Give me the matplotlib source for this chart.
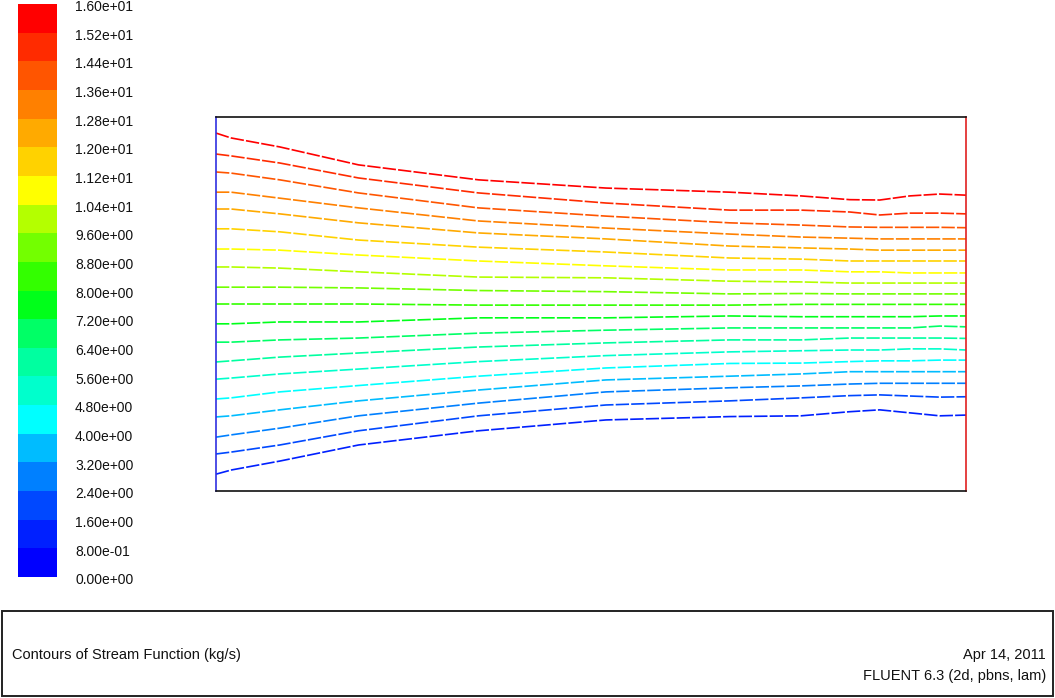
import matplotlib
matplotlib.use("Agg")
import matplotlib.pyplot as plt
import numpy as np
from matplotlib.colors import ListedColormap, BoundaryNorm
from matplotlib.cm import ScalarMappable
from matplotlib.patches import Rectangle
from matplotlib.transforms import ScaledTranslation

# ---------------- data ----------------
# colour-bar levels (stream function, kg/s)
levels = [round(0.8 * i, 1) for i in range(21)]          # 0.0 ... 16.0
band_colors = ["#0000ff", "#0020ff", "#0048ff", "#0080ff", "#00bcff",
               "#00ffff", "#00ffcc", "#00ffa0", "#00ff66", "#00ff1a",
               "#33ff00", "#73ff00", "#b4ff00", "#ffff00", "#ffd200",
               "#ffaa00", "#ff8000", "#ff5500", "#ff2b00", "#ff0000"]

# streamline positions in the channel (x: 0..2 along, y: 0..1 across)
x_pos = [0.0, 0.04, 0.17, 0.38, 0.70, 1.04, 1.37, 1.56, 1.69, 1.77, 1.85, 1.93, 2.0]
contour_levels = [0.8, 1.6, 2.4, 3.2, 4.0, 4.8, 5.6, 6.4, 7.2, 8.0,
                  8.8, 9.6, 10.4, 11.2, 12.0, 12.8, 13.6, 14.4, 15.2]
psi_0_8  = [0.045, 0.056, 0.080, 0.123, 0.161, 0.190, 0.199, 0.201, 0.212, 0.217, 0.209, 0.201, 0.203]
psi_1_6  = [0.099, 0.104, 0.123, 0.161, 0.201, 0.230, 0.241, 0.249, 0.255, 0.257, 0.254, 0.251, 0.252]
psi_2_4  = [0.144, 0.150, 0.168, 0.201, 0.235, 0.265, 0.276, 0.281, 0.286, 0.288, 0.288, 0.288, 0.288]
psi_3_2  = [0.198, 0.201, 0.217, 0.241, 0.270, 0.297, 0.307, 0.313, 0.319, 0.319, 0.319, 0.319, 0.319]
psi_4_0  = [0.246, 0.249, 0.265, 0.282, 0.307, 0.329, 0.341, 0.342, 0.346, 0.348, 0.348, 0.350, 0.350]
psi_4_8  = [0.299, 0.302, 0.313, 0.326, 0.346, 0.362, 0.372, 0.375, 0.377, 0.377, 0.380, 0.380, 0.377]
psi_5_6  = [0.345, 0.348, 0.358, 0.369, 0.385, 0.396, 0.404, 0.404, 0.409, 0.409, 0.409, 0.409, 0.408]
psi_6_4  = [0.398, 0.398, 0.404, 0.409, 0.422, 0.430, 0.436, 0.436, 0.436, 0.436, 0.436, 0.441, 0.439]
psi_7_2  = [0.447, 0.447, 0.452, 0.452, 0.463, 0.463, 0.468, 0.466, 0.466, 0.466, 0.466, 0.468, 0.468]
psi_8_0  = [0.500, 0.500, 0.500, 0.500, 0.497, 0.497, 0.497, 0.499, 0.499, 0.499, 0.499, 0.499, 0.499]
psi_8_8  = [0.545, 0.545, 0.545, 0.543, 0.536, 0.533, 0.527, 0.528, 0.527, 0.527, 0.527, 0.527, 0.527]
psi_9_6  = [0.599, 0.599, 0.596, 0.586, 0.572, 0.570, 0.561, 0.559, 0.556, 0.556, 0.556, 0.556, 0.556]
psi_10_4 = [0.647, 0.647, 0.644, 0.631, 0.615, 0.602, 0.591, 0.591, 0.586, 0.586, 0.583, 0.583, 0.583]
psi_11_2 = [0.701, 0.701, 0.693, 0.671, 0.652, 0.639, 0.623, 0.620, 0.615, 0.615, 0.615, 0.615, 0.615]
psi_12_0 = [0.754, 0.754, 0.741, 0.717, 0.690, 0.674, 0.655, 0.650, 0.647, 0.644, 0.644, 0.644, 0.644]
psi_12_8 = [0.799, 0.799, 0.783, 0.757, 0.722, 0.703, 0.687, 0.679, 0.676, 0.674, 0.674, 0.674, 0.674]
psi_13_6 = [0.853, 0.850, 0.832, 0.797, 0.757, 0.735, 0.717, 0.711, 0.706, 0.705, 0.705, 0.705, 0.704]
psi_14_4 = [0.901, 0.896, 0.877, 0.837, 0.797, 0.770, 0.751, 0.751, 0.746, 0.738, 0.743, 0.743, 0.741]
psi_15_2 = [0.957, 0.944, 0.920, 0.872, 0.832, 0.810, 0.799, 0.789, 0.779, 0.778, 0.789, 0.794, 0.791]
streamlines = [psi_0_8, psi_1_6, psi_2_4, psi_3_2, psi_4_0, psi_4_8, psi_5_6, psi_6_4,
               psi_7_2, psi_8_0, psi_8_8, psi_9_6, psi_10_4, psi_11_2, psi_12_0,
               psi_12_8, psi_13_6, psi_14_4, psi_15_2]

title_text = "Contours of Stream Function (kg/s)"
date_text = "Apr 14, 2011"
version_text = "FLUENT 6.3 (2d, pbns, lam)"

# ---------------- figure ----------------
W, H = 1055, 698
fig = plt.figure(figsize=(W / 100, H / 100), dpi=100)
fig.patch.set_facecolor("white")
FONT = ["Liberation Sans", "DejaVu Sans"]

# domain
ax = fig.add_axes([216 / W, (H - 491) / H, 750 / W, 374 / H])
cmap = ListedColormap(band_colors)
norm = BoundaryNorm(levels, cmap.N)
for lev, ys in zip(contour_levels, streamlines):
    ax.plot(x_pos, ys, color=cmap(norm(lev + 0.01)), lw=1.2,
            linestyle=(0, (8, 1.3)), solid_capstyle="butt")
ax.set_xlim(0, 2.0)
ax.set_ylim(0, 1.0)
ax.set_xticks([])
ax.set_yticks([])
ax.spines["top"].set_color("#111111")
ax.spines["bottom"].set_color("#111111")
ax.spines["left"].set_color("#3030e0")
ax.spines["right"].set_color("#e02020")
for s in ax.spines.values():
    s.set_linewidth(1.2)

# colour bar
cax = fig.add_axes([18 / W, (H - 577) / H, 39 / W, 573 / H])
sm = ScalarMappable(norm=norm, cmap=cmap)
cb = fig.colorbar(sm, cax=cax, ticks=levels, spacing="uniform")
cb.outline.set_visible(False)
cb.ax.set_yticklabels([f"{v:.2e}" for v in levels])
cb.ax.tick_params(length=0, pad=13, labelsize=10)
shift = ScaledTranslation(0, -1.2 / 72, fig.dpi_scale_trans)
for t in cb.ax.get_yticklabels():
    t.set_family(FONT)
    t.set_color("#111111")
    t.set_transform(t.get_transform() + shift)

# info box
fig.add_artist(Rectangle((2 / W, 2 / H), 1051 / W, 85 / H, transform=fig.transFigure,
                         fill=False, lw=1.4, ec="#222222"))
fig.text(12 / W, (H - 655) / H, title_text, ha="left", va="center",
         fontsize=10.5, family=FONT, color="#111111")
fig.text(1046 / W, (H - 655) / H, date_text, ha="right", va="center",
         fontsize=10.5, family=FONT, color="#111111")
fig.text(1046 / W, (H - 676) / H, version_text, ha="right", va="center",
         fontsize=10.5, family=FONT, color="#111111")

fig.savefig("out.png", dpi=100, facecolor="white")
